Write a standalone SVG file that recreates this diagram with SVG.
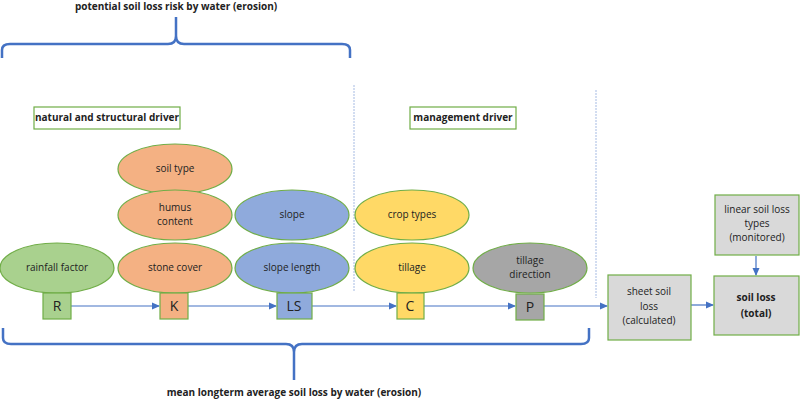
<svg xmlns="http://www.w3.org/2000/svg" width="800" height="400" viewBox="0 0 800 400">
<style>
text{font-family:"Open Sans","Liberation Sans",sans-serif;font-size:10px;fill:#222;text-anchor:middle}
.b{font-weight:bold}
.brace{fill:none;stroke:#4472c4;stroke-width:2.5}
.lab{fill:#fff;stroke:#70ad47;stroke-width:1.2}
.e{stroke:#70ad47;stroke-width:1.2}
.g{fill:#a9d18e}.o{fill:#f4b183}.bl{fill:#8faadc}.y{fill:#ffd966}.gr{fill:#a6a6a6}.lg{fill:#d9d9d9}
.big{font-size:14px}
.c{stroke:#4472c4;stroke-width:1.2;fill:none}
</style>
<defs><marker id="a" markerWidth="8" markerHeight="8" refX="7" refY="4" orient="auto" markerUnits="userSpaceOnUse"><path d="M0,0.5 L8,4 L0,7.5z" fill="#4472c4"/></marker></defs>
<rect width="800" height="400" fill="#fff"/>
<text class="b" x="176" y="10" font-size="11">potential soil loss risk by water (erosion)</text>
<path class="brace" d="M2,58 V50 Q2,44 10,44 H168 Q176,44 176,36 V17 V36 Q176,44 184,44 H342 Q350,44 350,50 V58"/>
<path class="brace" d="M3,328 V338 Q3,344 11,344 H286 Q294,344 294,352 V380 V352 Q294,344 302,344 H581 Q589,344 589,338 V328"/>
<text class="b" x="294" y="396" font-size="11">mean longterm average soil loss by water (erosion)</text>
<line x1="354" y1="85" x2="354" y2="292" stroke="#8faadc" stroke-width="0.8" stroke-dasharray="2,1"/>
<line x1="596" y1="90" x2="596" y2="298" stroke="#8faadc" stroke-width="0.8" stroke-dasharray="2,1"/>
<g id="natural"><rect class="lab" x="34" y="107" width="146" height="22"/><text class="b" x="107" y="121" font-size="8.5">natural and  structural driver</text></g>
<g id="management"><rect class="lab" x="410" y="107" width="106" height="22"/><text class="b" x="463" y="121" font-size="8.5">management driver</text></g>
<g id="soiltype"><ellipse class="e o" cx="175" cy="169" rx="57" ry="25"/><text x="175" y="172">soil type</text></g>
<g id="humus"><ellipse class="e o" cx="175" cy="215" rx="57" ry="25"/><text x="175" y="211">humus</text><text x="175" y="225">content</text></g>
<g id="stone"><ellipse class="e o" cx="175" cy="268" rx="57" ry="25"/><text x="175" y="271">stone cover</text></g>
<g id="rainfall"><ellipse class="e g" cx="57" cy="268" rx="57" ry="25"/><text x="57" y="271">rainfall factor</text></g>
<g id="slope"><ellipse class="e bl" cx="292" cy="215" rx="57" ry="25"/><text x="292" y="218">slope</text></g>
<g id="slopelength"><ellipse class="e bl" cx="292" cy="268" rx="57" ry="25"/><text x="292" y="271">slope length</text></g>
<g id="crop"><ellipse class="e y" cx="412" cy="215" rx="57" ry="25"/><text x="412" y="218">crop types</text></g>
<g id="tillage"><ellipse class="e y" cx="412" cy="268" rx="57" ry="25"/><text x="412" y="271">tillage</text></g>
<g id="tilldir"><ellipse class="e gr" cx="530" cy="268" rx="57" ry="25"/><text x="530" y="264">tillage</text><text x="530" y="278">direction</text></g>
<g id="connectors">
<line class="c" x1="71" y1="306" x2="159" y2="306" marker-end="url(#a)"/>
<line class="c" x1="188" y1="306" x2="276" y2="306" marker-end="url(#a)"/>
<line class="c" x1="312" y1="306" x2="396" y2="306" marker-end="url(#a)"/>
<line class="c" x1="424" y1="306" x2="515" y2="306" marker-end="url(#a)"/>
<line class="c" x1="544" y1="306" x2="607" y2="306" stroke-width="2" marker-end="url(#a)"/>
<line class="c" x1="691" y1="305" x2="713" y2="305" marker-end="url(#a)"/>
<line class="c" x1="756" y1="256" x2="756" y2="275" marker-end="url(#a)"/>
</g>
<g id="R"><rect class="e g" x="43" y="293" width="28" height="26"/><text class="big" x="57" y="311">R</text></g>
<g id="K"><rect class="e o" x="160" y="293" width="28" height="26"/><text class="big" x="174" y="311">K</text></g>
<g id="LS"><rect class="e bl" x="277" y="293" width="35" height="26"/><text class="big" x="294" y="311">LS</text></g>
<g id="C"><rect class="e y" x="397" y="293" width="27" height="26"/><text class="big" x="410" y="311">C</text></g>
<g id="P"><rect class="e gr" x="516" y="294" width="28" height="26"/><text class="big" x="530" y="312">P</text></g>
<g id="sheet"><rect class="e lg" x="608" y="275" width="83" height="65"/><text x="649" y="295">sheet soil</text><text x="649" y="310">loss</text><text x="649" y="324">(calculated)</text></g>
<g id="total"><rect class="e lg" x="714" y="276" width="85" height="59"/><text class="b" x="756" y="301">soil loss</text><text class="b" x="756" y="317">(total)</text></g>
<g id="linear"><rect class="e lg" x="715" y="195" width="84" height="60"/><text x="757" y="213">linear soil loss</text><text x="757" y="227">types</text><text x="757" y="241">(monitored)</text></g>
</svg>
